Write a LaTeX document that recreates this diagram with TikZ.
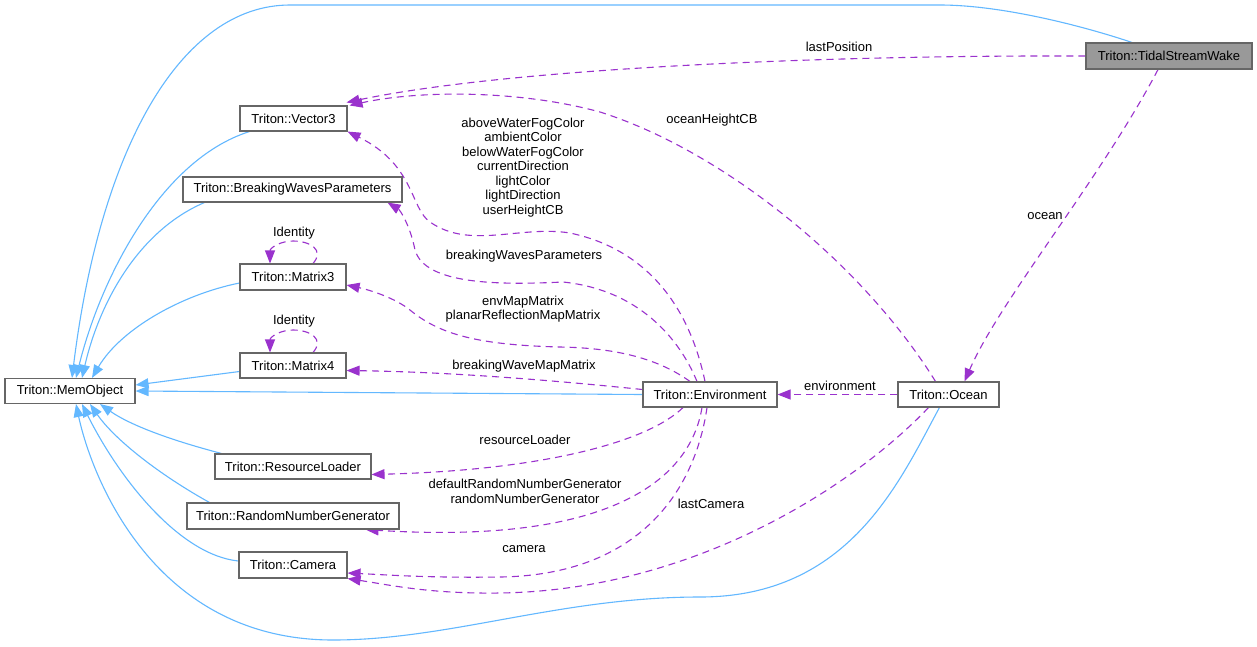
\documentclass[tikz,border=0pt]{standalone}
\usepackage{fontspec}
\setmainfont{Liberation Sans}
\usetikzlibrary{arrows.meta,calc,backgrounds}
\definecolor{inhblue}{HTML}{63B8FF}
\definecolor{usepurple}{HTML}{9A32CD}
\definecolor{boxgray}{HTML}{666666}
\definecolor{curfill}{HTML}{999999}
\begin{document}
\begin{tikzpicture}[x=1pt,y=-1pt,
  font=\fontsize{13}{14.5}\selectfont,
  cls/.style={draw=boxgray,line width=1.1pt,fill=white,inner sep=0pt,minimum height=25pt,anchor=center},
  inh/.style={draw=inhblue,line width=1.1pt,-{Triangle[length=13pt,width=10pt,fill=inhblue]}},
  use/.style={draw=usepurple,line width=1.1pt,dash pattern=on 7pt off 5pt,-{Triangle[length=13pt,width=10pt,fill=usepurple]}},
  lbl/.style={inner sep=0pt,align=center,anchor=center}]
\useasboundingbox (0,0) rectangle (1257,646);
% nodes
\node[cls,minimum width=130pt] (mem) at (70,391) {Triton::MemObject};
\node[cls,minimum width=107pt] (vec) at (293.5,118.5) {Triton::Vector3};
\node[cls,minimum width=219pt] (bwp) at (292.5,189.5) {Triton::BreakingWavesParameters};
\node[cls,minimum width=106pt,minimum height=26pt] (m3) at (293,277) {Triton::Matrix3};
\node[cls,minimum width=106pt] (m4) at (293,365.5) {Triton::Matrix4};
\node[cls,minimum width=156pt] (rl) at (293,466.5) {Triton::ResourceLoader};
\node[cls,minimum width=212pt,minimum height=26pt] (rng) at (293,516) {Triton::RandomNumberGenerator};
\node[cls,minimum width=108pt,minimum height=26pt] (cam) at (293,565) {Triton::Camera};
\node[cls,minimum width=134pt] (env) at (710,394.5) {Triton::Environment};
\node[cls,minimum width=101pt] (ocean) at (948.5,394.5) {Triton::Ocean};
\node[cls,minimum width=166pt,minimum height=26pt,fill=curfill] (tsw) at (1169,56) {Triton::TidalStreamWake};
\begin{scope}[on background layer]
\fill[white] (0,0) rectangle (1257,646);
% inheritance edges
\draw[inh] ($(tsw.north)+(-37,0)$) .. controls (1080,25) and (1000,5) .. (940,5) -- (290,5) .. controls (180,5) and (100,150) .. ($(mem.north)+(2,0)$);
\draw[inh] ($(vec.south west)+(10,0)$) .. controls (160,160) and (100,280) .. ($(mem.north)+(6,0)$);
\draw[inh] ($(bwp.south west)+(22,0)$) .. controls (140,230) and (100,300) .. ($(mem.north)+(12,0)$);
\draw[inh] ($(m3.west)+(0,6)$) .. controls (180,295) and (120,330) .. ($(mem.north)+(22,0)$);
\draw[inh] ($(m4.west)+(0,6)$) -- ($(mem.east)+(0,-6)$);
\draw[inh] (env.west) -- (mem.east);
\draw[inh] ($(rl.north west)+(7,0)$) .. controls (170,440) and (130,425) .. ($(mem.south)+(30,0)$);
\draw[inh] ($(rng.north west)+(23,0)$) .. controls (160,475) and (115,440) .. ($(mem.south)+(20,0)$);
\draw[inh] ($(cam.west)+(0,-4)$) .. controls (180,555) and (120,480) .. ($(mem.south)+(12,0)$);
\draw[inh] ($(ocean.south west)+(42,0)$) .. controls (900,480) and (850,597) .. (700,597) .. controls (560,597) and (450,640) .. (333,640) .. controls (150,640) and (90,470) .. ($(mem.south)+(6,0)$);
% usage edges
\draw[use] (tsw.west) .. controls (800,55) and (500,70) .. ($(vec.north east)+(-1,-3)$);
\draw[use] ($(tsw.south)+(-11,0)$) .. controls (1100,180) and (1000,300) .. ($(ocean.north)+(16,0)$);
\draw[use] ($(ocean.north)+(-13,0)$) .. controls (860,260) and (720,150) .. (600,112) .. controls (520,90) and (420,90) .. ($(vec.north east)+(2,0)$);
\draw[use] ($(env.north)+(-5,0)$) .. controls (690,310) and (650,250) .. (570,233) .. controls (520,225) and (470,250) .. (430,222) .. controls (410,208) and (415,165) .. (vec.south east);
\draw[use] ($(env.north)+(-13,0)$) .. controls (680,340) and (640,290) .. (563,282) .. controls (500,285) and (425,285) .. (415,250) .. controls (410,225) and (400,210) .. ($(bwp.south east)+(-15,0)$);
\draw[use] ($(env.north)+(-20,0)$) .. controls (660,360) and (620,348) .. (560,347) .. controls (480,345) and (440,335) .. (410,310) .. controls (395,298) and (370,290) .. ($(m3.east)+(0,8)$);
\draw[use] ($(env.west)+(0,-5)$) .. controls (550,380) and (450,372) .. ($(m4.east)+(0,5)$);
\draw[use] ($(env.south)+(-27,0)$) .. controls (650,440) and (550,470) .. ($(rl.east)+(0,8)$);
\draw[use] ($(env.south)+(-8,0)$) .. controls (690,480) and (610,545) .. ($(rng.south east)+(-34,0)$);
\draw[use] ($(env.south)+(-3,0)$) .. controls (695,490) and (640,575) .. (500,577) .. controls (430,578) and (390,575) .. ($(cam.east)+(0,8)$);
\draw[use] ($(ocean.south)+(-20,0)$) .. controls (860,480) and (700,590) .. (500,593) .. controls (430,594) and (390,585) .. (cam.south east);
\draw[use] (ocean.west) -- (env.east);
\draw[use] ($(m3.north)+(20,0)$) .. controls (325,250) and (310,241) .. (293,241) .. controls (280,241) and (270,248) .. ($(m3.north)+(-23,0)$);
\draw[use] ($(m4.north)+(20,0)$) .. controls (325,339) and (310,330) .. (293,330) .. controls (280,330) and (270,337) .. ($(m4.north)+(-23,0)$);
\end{scope}
% labels
\node[lbl] (lLast) at (839,47) {lastPosition};
\node[lbl] (lOHCB) at (712,120) {oceanHeightCB};
\node[lbl] (lOcean) at (1045,216) {ocean};
\node[lbl] (lVec) at (523,167.5) {aboveWaterFogColor\\ambientColor\\belowWaterFogColor\\currentDirection\\lightColor\\lightDirection\\userHeightCB};
\node[lbl] (lBwp) at (524,256) {breakingWavesParameters};
\node[lbl] (lM3) at (523,309) {envMapMatrix\\planarReflectionMapMatrix};
\node[lbl] (lM4) at (524,366) {breakingWaveMapMatrix};
\node[lbl] (lEnv) at (840,386) {environment};
\node[lbl] (lRl) at (525,440) {resourceLoader};
\node[lbl] (lRng) at (525,491.5) {defaultRandomNumberGenerator\\randomNumberGenerator};
\node[lbl] (lCam) at (524,549) {camera};
\node[lbl] (lLCam) at (711,504) {lastCamera};
\node[lbl] (lId3) at (294,233) {Identity};
\node[lbl] (lId4) at (294,321) {Identity};
\end{tikzpicture}
\end{document}
